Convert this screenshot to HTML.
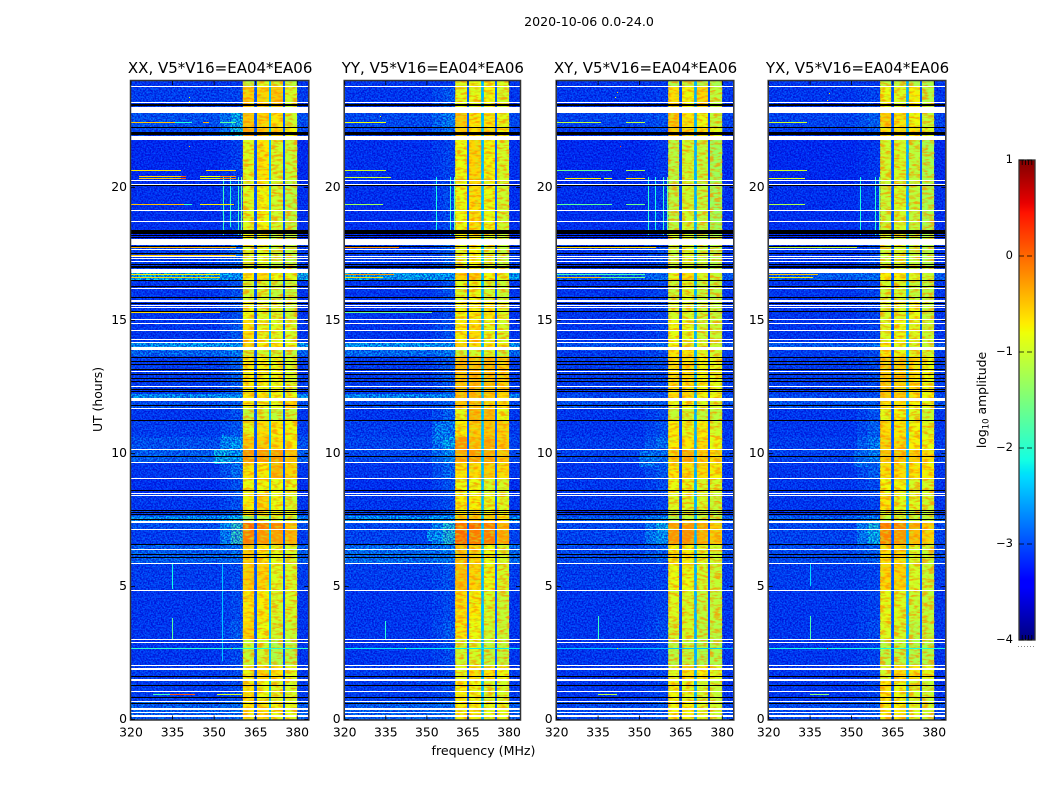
<!DOCTYPE html>
<html>
<head>
<meta charset="utf-8">
<title>2020-10-06 0.0-24.0</title>
<style>
html,body{margin:0;padding:0;background:#fff;width:1050px;height:800px;overflow:hidden}
svg{display:block;font-family:"DejaVu Sans","Liberation Sans",sans-serif;fill:#000}
</style>
</head>
<body>
<svg id="chart" xmlns="http://www.w3.org/2000/svg" width="1050" height="800" viewBox="0 0 1050 800">
<defs>
<filter id="speckle" x="0" y="0" width="100%" height="100%" color-interpolation-filters="sRGB">
<feTurbulence type="fractalNoise" baseFrequency="0.62" numOctaves="1" seed="7"/>
<feColorMatrix type="matrix" values="0 0 0 0 0  0 0 0 0 0  0 0 0 0 0.8  3.6 0 0 0 -1.25"/>
</filter>
<filter id="glint" x="0" y="0" width="100%" height="100%" color-interpolation-filters="sRGB">
<feTurbulence type="fractalNoise" baseFrequency="0.7" numOctaves="1" seed="23"/>
<feColorMatrix type="matrix" values="0 0 0 0 0.02  0 0 0 0 0.55  0 0 0 0 1  0 3.6 0 0 -1.75"/>
</filter>
<filter id="bandFleck" x="0" y="0" width="100%" height="100%" color-interpolation-filters="sRGB">
<feTurbulence type="fractalNoise" baseFrequency="0.14 0.42" numOctaves="2" seed="41"/>
<feColorMatrix type="matrix" values="0 0 0 0 1  0 0 0 0 0.55  0 0 0 0 0  4 0 0 0 -1.75"/>
</filter>
<filter id="bandGreen" x="0" y="0" width="100%" height="100%" color-interpolation-filters="sRGB">
<feTurbulence type="fractalNoise" baseFrequency="0.2 0.5" numOctaves="1" seed="58"/>
<feColorMatrix type="matrix" values="0 0 0 0 0.72  0 0 0 0 1  0 0 0 0 0.15  0 4 0 0 -1.85"/>
</filter>
</defs>
<text x="589" y="26" font-size="12.6" text-anchor="middle">2020-10-06 0.0-24.0</text>
<text x="483.5" y="755" font-size="12.6" text-anchor="middle">frequency (MHz)</text>
<text transform="translate(102,399.5) rotate(-90)" font-size="12.4" text-anchor="middle">UT (hours)</text>
<text transform="translate(986,400) rotate(-90)" font-size="12.4" text-anchor="middle">log<tspan font-size="8.5" dy="2.5">10</tspan><tspan dy="-2.5"> amplitude</tspan></text>
<g id="panels"></g>
<g id="colorbar"></g>
</svg>
<script>
/* ---- axis data ---- */
const panelTitles = ["XX, V5*V16=EA04*EA06","YY, V5*V16=EA04*EA06","XY, V5*V16=EA04*EA06","YX, V5*V16=EA04*EA06"];
const frequencyTicks = [320,335,350,365,380];
const hourTicks = [0,5,10,15,20];
const colorbarTicks = [1,0,-1,-2,-3,-4];

/* frequency zones (MHz) used as heatmap columns */
const zoneEdges = [320,356,360.4,364.5,365.5,369.8,370.7,374.8,375.7,380,384];

/* time segments, top hour of each (last one ends at 0 h) */
const segmentTops = [24,23.83,23,22.26,21.8,20.2,18.4,17.84,16.95,16.5,15.7,15.05,14.2,13.9,13.66,12.25,12,11.7,11.25,10.6,10.15,9.67,9.07,8.53,7.88,7.65,7.4,7.16,6.6,5.85,4.86,3.7,3,2.06,1.5,0.7];

/* log10 amplitude per segment: off-band, band-edge, sub-band 1..4 */
const xxLevels = [
[-3,-3,-1,-.8,-.9,-1],[-2.95,-2.9,-.4,-.45,-.35,-.85],[-2.8,-2.2,-.35,-.45,-.55,-.9],[-2.85,-2.1,-.15,-.35,-.4,-.65],
[-3.1,-2.95,-.8,-.55,-.85,-.95],[-3.05,-2.85,-.8,-.65,-.9,-1.05],[-3.1,-3,-.7,-.7,-1,-1.05],[-2.95,-2.7,-.85,-.8,-1,-1.05],
[-2.2,-2.35,-.6,-.5,-.7,-.75],[-3,-2.8,-.9,-.85,-1,-1],[-3,-2.8,-.7,-.8,-.85,-.95],[-3,-2.75,-.5,-.75,-.8,-.85],
[-2.3,-2.3,-.45,-.6,-.6,-.75],[-2.65,-2.5,-.9,-.9,-.95,-1],[-2.95,-2.7,-.6,-.65,-.7,-.85],[-2.35,-2.35,-.55,-.55,-.7,-.7],
[-2.8,-2.7,-.6,-.7,-.75,-.45],[-3,-2.8,-1,-.9,-1,-.95],[-2.95,-2.75,-.75,-.5,-.6,-.65],[-2.8,-2.3,-.35,-.4,-.5,-.6],
[-2.7,-2.3,-.1,-.15,-.15,-.35],[-3,-2.6,-.55,-.6,-.25,-.45],[-3.05,-2.8,-.7,-.65,-.7,-.75],[-3,-2.8,-.6,-.45,-.7,-.85],
[-2.9,-2.6,-.55,-.55,-.6,-.7],[-2.35,-2.2,-1.35,-1,-.9,-1],[-2.8,-1.9,.15,.05,0,-.3],[-2.95,-1.9,.05,-.1,-.15,-.25],
[-2.7,-2.6,-.4,-.55,-.75,-.85],[-2.95,-2.85,-.4,-.45,-.8,-.85],[-3,-2.85,-.55,-.6,-.85,-.85],[-3,-2.75,-.45,-.7,-.9,-.95],
[-3,-2.85,-.95,-.9,-1.1,-1.05],[-2.95,-2.85,-.7,-.45,-.55,-.75],[-2.95,-2.85,-.55,-.7,-.8,-.85],[-2.7,-2.6,-.55,-.5,-.7,-.75]];
const yyLevels = [
[-3,-3,-.8,-.7,-.7,-.8],[-3,-2.75,-.75,-.75,-.65,-.85],[-2.85,-2.5,-.35,-.55,-.55,-.75],[-2.9,-2.6,-.4,-.5,-.45,-.6],
[-3.05,-2.9,-.7,-.45,-.65,-.85],[-3.05,-2.85,-.7,-.5,-.7,-.9],[-3.1,-3,-.6,-.6,-.8,-.95],[-2.95,-2.7,-.8,-.65,-.85,-1],
[-2.25,-2.3,-.45,-.4,-.65,-.75],[-3,-2.8,-.8,-.7,-.9,-.95],[-3,-2.85,-.65,-.6,-.55,-.8],[-3,-2.8,-.6,-.5,-.75,-.85],
[-2.3,-2.3,-.45,-.5,-.55,-.7],[-2.6,-2.5,-.95,-.9,-.85,-1],[-2.95,-2.75,-.3,-.3,-.3,-.4],[-2.4,-2.4,-.3,-.3,-.4,-.5],
[-2.85,-2.7,-.35,-.3,-.45,-.5],[-3,-2.7,-.75,-.25,-.3,-.7],[-2.95,-2.5,-.6,-.4,-.35,-.45],[-2.9,-2.25,-.1,-.3,-.2,-.4],
[-2.85,-2.4,-.2,-.15,-.2,-.35],[-3,-2.65,-.55,-.5,-.4,-.5],[-3.05,-2.8,-.7,-.7,-.85,-.85],[-3,-2.85,-.6,-.6,-.75,-.8],
[-2.9,-2.7,-.55,-.5,-.6,-.65],[-2.35,-2.3,-.35,-.35,-.4,-.55],[-2.85,-2,.1,.15,.05,-.25],[-2.9,-2,.15,.05,.05,-.2],
[-2.6,-2.5,-.35,-.45,-.7,-.85],[-2.95,-2.8,-.3,-.45,-.7,-.85],[-3,-2.85,-.5,-.6,-.85,-.95],[-3,-2.75,-.55,-.7,-.9,-.95],
[-3,-2.85,-.9,-.85,-1,-1],[-2.95,-2.85,-.75,-.5,-.55,-.7],[-2.95,-2.85,-.6,-.7,-.85,-.85],[-2.7,-2.6,-.6,-.6,-.75,-.75]];
const xyLevels = [
[-3,-3,-1.1,-1,-1.1,-1.15],[-3,-2.95,-.5,-.65,-.45,-1],[-2.9,-2.8,-.35,-.55,-.7,-1],[-2.95,-2.8,-.35,-.45,-.5,-.75],
[-3.1,-3,-1.05,-.9,-1,-1.2],[-3.05,-2.95,-1.05,-.9,-1,-1.2],[-3.1,-3,-.85,-.85,-1,-1.15],[-3,-2.85,-1,-.85,-1,-1.1],
[-2.75,-2.6,-.75,-.5,-.85,-.95],[-3,-2.9,-.95,-.8,-1,-1.05],[-3,-2.9,-.85,-.85,-.95,-1],[-3,-2.9,-.7,-.75,-.95,-.95],
[-2.8,-2.6,-.7,-.8,-.85,-.95],[-2.95,-2.85,-.55,-.6,-.8,-.9],[-2.95,-2.85,-.5,-.5,-.65,-.75],[-2.85,-2.8,-.45,-.5,-.65,-.7],
[-2.8,-2.75,-.75,-.7,-.8,-.85],[-3,-2.85,-.95,-.9,-1,-1],[-3,-2.8,-.6,-.75,-.6,-.85],[-2.95,-2.6,-.6,-.55,-.5,-.7],
[-2.9,-2.6,-.45,-.2,-.4,-.5],[-3,-2.75,-.55,-.5,-.5,-.6],[-3,-2.85,-.7,-.7,-.85,-.85],[-3,-2.9,-.8,-.8,-.85,-.95],
[-3,-2.85,-1,-.9,-1,-1],[-2.7,-2.4,-1.2,-1,-1,-1.1],[-2.85,-2.2,-.15,-.1,-.2,-.4],[-2.9,-2.3,-.1,-.05,-.25,-.35],
[-2.85,-2.7,-.6,-.6,-.8,-.9],[-2.95,-2.9,-.7,-.7,-.9,-.95],[-3,-2.9,-.8,-.85,-1,-1],[-3,-2.85,-.9,-.85,-1.05,-1.05],
[-3,-2.9,-1.05,-1,-1.15,-1.1],[-3,-2.9,-.8,-.5,-.6,-.8],[-3,-2.9,-.65,-.75,-.9,-.95],[-2.85,-2.75,-.65,-.6,-.8,-.9]];
const yxLevels = [
[-3,-3,-1,-1,-1.1,-1.15],[-3,-2.9,-.7,-.8,-.6,-1.05],[-2.9,-2.7,-.4,-.55,-.65,-.95],[-2.95,-2.75,-.5,-.5,-.55,-.8],
[-3.1,-3,-.9,-.85,-1,-1.15],[-3.05,-2.95,-.95,-.85,-1,-1.15],[-3.1,-3,-.85,-.85,-1,-1.1],[-3,-2.85,-.95,-.85,-1,-1.1],
[-2.7,-2.6,-.6,-.6,-.8,-.95],[-3,-2.9,-.9,-.85,-1,-1.05],[-3,-2.9,-.85,-.8,-.7,-1],[-3,-2.9,-.8,-.7,-.8,-.95],
[-2.75,-2.6,-.6,-.75,-.85,-.95],[-2.95,-2.85,-.55,-.7,-.8,-.9],[-2.95,-2.85,-.35,-.4,-.5,-.7],[-2.85,-2.8,-.35,-.4,-.55,-.65],
[-2.8,-2.75,-.55,-.5,-.65,-.75],[-3,-2.8,-.75,-.65,-.8,-.95],[-3,-2.7,-.5,-.55,-.65,-.8],[-2.95,-2.5,-.45,-.45,-.6,-.7],
[-2.9,-2.5,-.35,-.35,-.4,-.5],[-3,-2.7,-.5,-.5,-.55,-.6],[-3,-2.85,-.65,-.65,-.85,-.85],[-3,-2.9,-.55,-.75,-.8,-.9],
[-3,-2.85,-.8,-.85,-.95,-1],[-2.7,-2.4,-1,-.9,-1,-1.05],[-2.85,-2.1,.05,0,-.2,-.4],[-2.9,-2.2,0,-.1,-.3,-.45],
[-2.85,-2.7,-.5,-.5,-.85,-.95],[-2.95,-2.9,-.45,-.45,-.85,-.95],[-3,-2.9,-.75,-.8,-.95,-1],[-3,-2.85,-.8,-.85,-1.05,-1],
[-3,-2.9,-1.05,-1,-1.1,-1.1],[-3,-2.9,-.85,-.5,-.55,-.75],[-3,-2.9,-.55,-.7,-.85,-.95],[-2.85,-2.75,-.6,-.6,-.8,-.9]];

/* notch levels between sub-bands, one set per panel */
const notchLevels = [[-2.95,-2.45,-2.95],[-2.9,-2.45,-2.9],[-3,-2.5,-3],[-2.95,-2.5,-2.95]];
/* mean of the in-band mottling sits below the peak values read above */
const bandCalibration = [-0.13];

/* flagged integrations, hours, shared by all panels */
const whiteLines = [23.83,23.21,20.26,20.13,19.15,18.74,17.69,17.41,17.33,17.25,16.21,15.58,15.5,15.06,14.91,14.63,14.29,14.2,13.1,12.54,11.7,10.16,9.67,9.07,8.53,8.43,7.16,6.4,5.87,4.86,3.02,2.9,2.06,1.07,0.68];
const whiteSpans = [[23.02,22.8],[21.94,21.79],[18.06,17.84],[16.94,16.77],[15.77,15.68],[13.99,13.89],[12.09,11.96],[7.46,7.38],[1.94,1.86],[1.52,1.45],[0.43,0.36],[0.28,0.23],[0.17,0.09]];
const blackLines = [22.26,22.1,20.09,18.2,18.14,17.8,17.53,17.12,16.52,15.87,15.65,15.36,13.63,13.48,13.35,13.18,12.99,12.85,12.74,12.44,12.34,11.84,11.27,9.91,8.62,7.88,7.8,7.71,7.53,6.59,6.22,6.1,1.64,1.29,0.86,0.62];
const blackSpans = [[23.14,23.06],[22.06,21.98],[18.4,18.26],[17.04,16.97],[16.31,16.25]];

/* interference streaks: panel, hour, start MHz, end MHz, level */
const streaks = [
[0,22.45,320,336,-.5],[0,22.45,336,342,-2],[0,22.45,346,348,-.4],[0,22.45,352,358,-1.7],
[0,20.65,320,338,-.7],[0,20.65,347,358,-.6],
[0,20.42,323,338,-.55],[0,20.42,338,340,.1],[0,20.42,345,352,-.8],[0,20.42,352,358,-.2],
[0,20.36,323,338,-.55],[0,20.36,338,340,.1],[0,20.36,345,352,-.8],[0,20.36,352,358,-.2],
[0,19.37,320,339,-.45],[0,19.37,339,342,-1.9],[0,19.37,345,357,-.7],
[0,17.75,320,358,-.4],[0,17.47,320,358,-.5],[0,16.74,320,352,-.7],[0,16.63,320,352,-.6],[0,15.32,320,352,-.6],
[0,.96,334,343,.1],[0,.96,328,334,-1.8],[0,.96,351,360,-.9],[0,2.7,320,384,-2],
[1,22.45,320,335,-.8],[1,20.65,320,335,-1],[1,20.38,320,337,-1],[1,19.37,320,334,-1.3],
[1,17.75,320,340,-.2],[1,16.74,320,338,-.25],[1,16.63,320,334,-.6],[1,15.32,320,352,-1.6],[1,2.7,320,384,-2.2],
[2,22.45,320,336,-1.1],[2,22.45,345,352,-1.1],[2,20.65,320,340,-1.6],[2,20.65,345,352,-1.2],
[2,20.36,323,336,-.7],[2,20.36,337,340,-.8],[2,20.36,345,352,-.6],[2,19.37,320,340,-1.7],[2,19.37,345,352,-1.6],
[2,17.75,320,356,-.6],[2,16.74,320,352,-1.8],[2,16.63,320,336,-.5],[2,16.63,336,352,-1.5],[2,.96,335,342,-1.1],[2,2.7,320,384,-2.4],
[3,22.45,320,334,-1],[3,20.65,320,334,-1],[3,20.36,320,333,-.9],[3,19.37,320,333,-1.2],
[3,17.75,320,352,-1.1],[3,16.74,320,338,-.5],[3,16.63,320,336,-.7],[3,.96,335,342,-1.4],[3,2.7,320,384,-2.1]];

/* vertical interference: panel, MHz, top hour, bottom hour, level */
const verticals = [
[0,353.2,20.4,18.2,-1.9],[0,355.8,20.4,18.5,-2],[0,358.5,20.4,18.2,-1.9],[0,359.8,20.4,18.2,-1.6],[0,334.8,3.8,3,-1.7],[0,334.8,5.9,4.9,-2.1],[0,352.9,5.9,2.2,-2.4],
[1,353.2,20.4,18.3,-2.1],[1,358.5,20.4,18.2,-2],[1,359.8,20.4,18.2,-1.8],[1,334.8,3.7,3,-2],
[2,353.2,20.4,18.2,-2],[2,355.8,20.4,18.4,-2.1],[2,358.5,20.4,18.2,-1.9],[2,359.8,20.4,18.2,-1.7],[2,334.8,3.9,3,-1.9],
[3,353.2,20.4,18.2,-2.1],[3,358.5,20.4,18.2,-2],[3,359.8,20.4,18.2,-1.7],[3,334.8,3.9,3,-1.8],[3,334.8,5.9,5,-2.3]];

/* broad diffuse emission: panel, top hour, bottom hour, start MHz, end MHz, level */
const patches = [
[0,22.9,22,352,356,-2.55],[0,10.15,9.6,350,356,-2.2],[0,10.7,10.15,353,356,-2.4],[0,7.15,6.7,352,356,-2.5],
[1,11.1,10.4,353,356,-2.45],[1,7.15,6.7,350,356,-2.35],[1,7.4,7.2,352,356,-2.4],
[2,7.15,6.7,353,356,-2.5],[2,10.1,9.5,350,356,-2.55],
[3,7.15,6.7,353,356,-2.5],[3,10.1,9.5,351,356,-2.6]];

/* isolated hot channels: panel, hour, MHz, level */
const hotSpots = [
[0,23.4,341,-.9],[0,23.25,341,-.9],[0,21.55,341,-.4],[1,22.7,333,-.9],[2,23.6,342,-.5],[2,23.4,341,-.8],[2,21.55,343,.2],
[3,23.55,342,-.6],[3,23.3,341,-.7],[3,2.7,341,.3],[3,1.9,329,-.2],[0,2.7,356,-.3],[1,2.7,342,-.8],[2,2.7,342,-.6]];

/* ---- scales ---- */
const NS = "http://www.w3.org/2000/svg";
const panelLeft = [131,344.7,556.7,768.7];
const panelRight = [308.3,520,733.3,945.3];
const plotTop = 81, plotBottom = 719.5;
const hourMax = 24, freqMin = 320, freqMax = 384;
const cbarTop = 160, cbarBottom = 640, cbarLeft = 1019, cbarRight = 1035;
const cbarMax = 1, cbarMin = -4;

function xScale(p, f){ return panelLeft[p] + (f - freqMin) / (freqMax - freqMin) * (panelRight[p] - panelLeft[p]); }
function yScale(h){ return plotBottom - h / hourMax * (plotBottom - plotTop); }
function cbarY(v){ return cbarTop + (cbarMax - v) / (cbarMax - cbarMin) * (cbarBottom - cbarTop); }

function ramp(t, pts){
  for(let i = 1; i < pts.length; i++){
    if(t <= pts[i][0]){
      const a = pts[i-1], b = pts[i];
      return a[1] + (b[1]-a[1]) * (t-a[0]) / (b[0]-a[0]);
    }
  }
  return pts[pts.length-1][1];
}
function jet(v){
  const t = Math.max(0, Math.min(1, (v - cbarMin) / (cbarMax - cbarMin)));
  const r = ramp(t, [[0,0],[.35,0],[.66,1],[.89,1],[1,.5]]);
  const g = ramp(t, [[0,0],[.125,0],[.375,1],[.64,1],[.91,0],[1,0]]);
  const b = ramp(t, [[0,.5],[.11,1],[.34,1],[.65,0],[1,0]]);
  return "rgb(" + Math.round(r*255) + "," + Math.round(g*255) + "," + Math.round(b*255) + ")";
}
function mk(parent, tag, attrs){
  const el = document.createElementNS(NS, tag);
  for(const k in attrs){ el.setAttribute(k, attrs[k]); }
  parent.appendChild(el);
  return el;
}
function box(parent, x0, x1, y0, y1, fill){
  const left = Math.round(x0), right = Math.max(Math.round(x1), left + 1);
  const top = Math.round(y0), bottom = Math.max(Math.round(y1), top + 1);
  return mk(parent, "rect", {x:left, y:top, width:right-left, height:bottom-top, fill:fill, "shape-rendering":"crispEdges"});
}

/* ---- panels ---- */
const allLevels = [xxLevels, yyLevels, xyLevels, yxLevels];
const panelsRoot = document.getElementById("panels");
panelTitles.forEach(function(title, p){
  const panel = mk(panelsRoot, "g", {});
  
  
  const clipId = "clip" + p;
  const defs = mk(panel, "clipPath", {id:clipId});
  mk(defs, "rect", {x:panelLeft[p], y:plotTop, width:panelRight[p]-panelLeft[p], height:plotBottom-plotTop});
  const heat = mk(panel, "g", {"clip-path":"url(#" + clipId + ")"});
  
  

  /* column value lookup for a row */
  const rows = allLevels[p];
  const cal = bandCalibration[0];
  segmentTops.forEach(function(top, r){
    const bottom = r + 1 < segmentTops.length ? segmentTops[r+1] : 0;
    const L = rows[r], N = notchLevels[p];
    const vals = [L[0],L[1],L[2]+cal,N[0],L[3]+cal,N[1],L[4]+cal,N[2],L[5]+cal,L[0]];
    vals.forEach(function(v, c){
      const cell = box(heat, xScale(p, zoneEdges[c]), xScale(p, zoneEdges[c+1]), yScale(top), yScale(bottom), jet(v));
      
      
    });
    /* soft transition across 352-356 */
    const soft = box(heat, xScale(p, 352), xScale(p, 356), yScale(top), yScale(bottom), jet((L[0]+L[1])/2));
    
    
  });
  patches.filter(function(d){ return d[0] === p; }).forEach(function(d){
    const el = box(heat, xScale(p, d[3]), xScale(p, d[4]), yScale(d[1]), yScale(d[2]), jet(d[5]));
    
    
  });

  /* speckle texture on top of the measured levels */
  const tex = mk(heat, "g", {});
  
  
  const h = plotBottom - plotTop;
  const offW = xScale(p, 360.4) - panelLeft[p];
  const outX = xScale(p, 380), outW = panelRight[p] - outX;
  [[panelLeft[p], offW], [outX, outW]].forEach(function(s){
    mk(tex, "rect", {x:s[0], y:plotTop, width:s[1], height:h, filter:"url(#speckle)", opacity:.72});
    mk(tex, "rect", {x:s[0], y:plotTop, width:s[1], height:h, filter:"url(#glint)", opacity:.4});
  });
  [2,4,6,8].forEach(function(c){
    const x0 = xScale(p, zoneEdges[c]), x1 = xScale(p, zoneEdges[c+1]);
    mk(tex, "rect", {x:x0, y:plotTop, width:x1-x0, height:h, filter:"url(#bandFleck)", opacity:.75});
    mk(tex, "rect", {x:x0, y:plotTop, width:x1-x0, height:h, filter:"url(#bandGreen)", opacity:.5});
  });

  verticals.filter(function(d){ return d[0] === p; }).forEach(function(d){
    const el = box(heat, xScale(p, d[1]), xScale(p, d[1]) + 1, yScale(d[2]), yScale(d[3]), jet(d[4]));
    
    
  });
  streaks.filter(function(d){ return d[0] === p; }).forEach(function(d){
    const y = yScale(d[1]);
    const el = box(heat, xScale(p, d[2]), xScale(p, d[3]), y, y + 1, jet(d[4]));
    
    
  });
  hotSpots.filter(function(d){ return d[0] === p; }).forEach(function(d){
    const y = yScale(d[1]), x = xScale(p, d[2]);
    const el = box(heat, x, x + 1, y, y + 1, jet(d[3]));
    
    
  });

  /* flagged rows */
  blackSpans.forEach(function(s){
    const el = box(heat, panelLeft[p], panelRight[p], yScale(s[0]), yScale(s[1]), "#000");
    
    
  });
  blackLines.forEach(function(hr){
    const y = yScale(hr);
    const el = box(heat, panelLeft[p], panelRight[p], y, y + 1, "#000");
    
    
  });
  whiteSpans.forEach(function(s){
    const el = box(heat, panelLeft[p], panelRight[p], yScale(s[0]), yScale(s[1]), "#fff");
    
    
  });
  whiteLines.forEach(function(hr){
    const y = yScale(hr);
    const el = box(heat, panelLeft[p], panelRight[p], y, y + 1, "#fff");
    
    
  });

  /* frame */
  const frame = mk(panel, "rect", {x:panelLeft[p]-.5, y:plotTop-.5, width:panelRight[p]-panelLeft[p]+1, height:plotBottom-plotTop+1, fill:"none", stroke:"#333", "stroke-width":1.5});
  
  

  /* title */
  const t = mk(panel, "text", {x:(panelLeft[p]+panelRight[p])/2 + .5, y:73, "font-size":15, "text-anchor":"middle"});
  t.textContent = title;
  
  

  /* x ticks */
  frequencyTicks.forEach(function(f){
    const x = xScale(p, f);
    const a = mk(panel, "line", {x1:x, x2:x, y1:plotBottom, y2:plotBottom-4, stroke:"#000", "stroke-width":.8});
    
    
    const b = mk(panel, "line", {x1:x, x2:x, y1:plotTop, y2:plotTop+4, stroke:"#000", "stroke-width":.8});
    
    
    const l = mk(panel, "text", {x:x, y:736.5, "font-size":12.4, "text-anchor":"middle"});
    l.textContent = f;
    
    
  });
  /* y ticks */
  hourTicks.forEach(function(hr){
    const y = yScale(hr);
    const a = mk(panel, "line", {x1:panelLeft[p], x2:panelLeft[p]+4, y1:y, y2:y, stroke:"#000", "stroke-width":.8});
    
    
    const b = mk(panel, "line", {x1:panelRight[p], x2:panelRight[p]-4, y1:y, y2:y, stroke:"#000", "stroke-width":.8});
    
    
    const l = mk(panel, "text", {x:panelLeft[p]-4, y:y+3.5, "font-size":12.4, "text-anchor":"end"});
    l.textContent = hr;
    
    
  });
});

/* ---- colour bar ---- */
const cbar = document.getElementById("colorbar");
for(let py = cbarTop; py < cbarBottom; py++){
  const value = cbarMax - (py + .5 - cbarTop) / (cbarBottom - cbarTop) * (cbarMax - cbarMin);
  const s = box(cbar, cbarLeft, cbarRight, py, py + 1, jet(value));
  
  
}
const cbFrame = mk(cbar, "rect", {x:cbarLeft, y:cbarTop, width:cbarRight-cbarLeft, height:cbarBottom-cbarTop, fill:"none", stroke:"#333", "stroke-width":1.3});


colorbarTicks.forEach(function(v){
  const y = cbarY(v);
  const a = mk(cbar, "line", {x1:cbarLeft, x2:cbarRight, y1:y, y2:y, stroke:"#000", "stroke-width":.8, "stroke-dasharray":"5 3"});
  
  
  const l = mk(cbar, "text", {x:1013, y:y+3, "font-size":11.5, "text-anchor":"end"});
  l.textContent = v < 0 ? "\u2212" + Math.abs(v) : String(v);
  
  
});
for(let i = 1; i < 5; i++){
  const x = cbarLeft + i * (cbarRight - cbarLeft) / 5;
  const top = mk(cbar, "line", {x1:x, x2:x, y1:cbarTop, y2:cbarTop+5, stroke:"#000", "stroke-width":.8});
  
  
  const bot = mk(cbar, "line", {x1:x, x2:x, y1:cbarBottom, y2:cbarBottom-5, stroke:"#000", "stroke-width":.8});
  
  
}
const dots = mk(cbar, "line", {x1:cbarLeft-1, x2:cbarRight, y1:646.5, y2:646.5, stroke:"#888", "stroke-width":1, "stroke-dasharray":"1 2"});


</script>
</body>
</html>
